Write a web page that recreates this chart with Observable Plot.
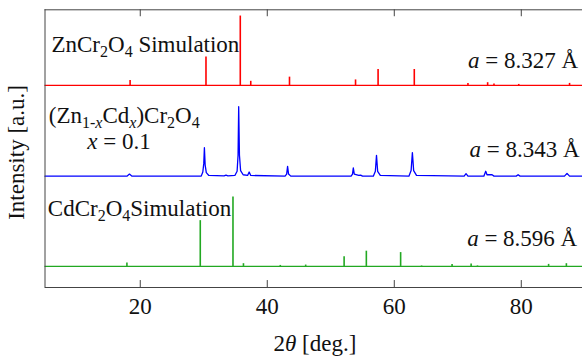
<!DOCTYPE html>
<html>
<head>
<meta charset="utf-8">
<script src="https://cdn.jsdelivr.net/npm/d3@7"></script>
<script src="https://cdn.jsdelivr.net/npm/@observablehq/plot@0.6"></script>
<style>
  html, body { margin: 0; padding: 0; background: #fff; }
</style>
</head>
<body>
<div id="chart"></div>
<script>
// ---- data (2θ in degrees, intensity in % of strongest peak) ----
const redTheta = [18.4, 30.35, 35.75, 37.4, 43.5, 53.9, 57.45, 63.15, 71.6, 74.7, 75.7, 79.6, 87.6];
const redInt   = [7, 41, 100, 6, 12, 8, 23, 23, 3, 4, 2, 1.5, 3];

const greenTheta = [17.9, 29.45, 34.6, 36.25, 42.05, 46.05, 52.1, 55.6, 61.0, 64.3, 69.1, 72.1, 73.1, 84.3, 87.1];
const greenInt   = [5, 66, 100, 4, 1.5, 2, 14, 22, 20, 0.7, 3, 3.5, 0.8, 3, 4];

const blueTheta = [5, 17.9, 18.3, 18.7, 29.6, 29.85, 30.0, 30.1, 30.22, 30.4, 30.8, 33.2, 33.5, 33.8,
  34.9, 35.25, 35.4, 35.5, 35.62, 35.8, 36.2, 36.9, 37.15, 37.4, 42.8, 43.05, 43.2, 43.35, 43.7,
  53.2, 53.42, 53.55, 53.7, 54.4, 54.7, 55.0, 56.7, 57.02, 57.2, 57.38, 57.8, 62.3, 62.65, 62.85, 63.05, 63.5,
  71.0, 71.3, 71.6, 74.1, 74.4, 74.6, 75.4, 75.7, 79.2, 79.5, 79.8, 86.8, 87.2, 87.6, 90];
const blueInt = [0, 0, 3, 0, 0, 6, 18, 41, 16, 5, 1, 0.5, 1.5, 0.5,
  1, 7, 30, 100, 30, 8, 2, 1, 6, 1, 0, 3, 14, 3, 0,
  0, 3, 12, 3, 1, 1.5, 0, 0, 7, 30, 7, 1, 0, 8, 34, 8, 1,
  0, 3.5, 0, 0, 7, 2, 2, 0, 0, 2, 0, 0, 4, 0, 0];

const xTicks = [20, 40, 60, 80];
const labels = {
  red: "ZnCr_{2}O_{4} Simulation",
  redA: "~a~ = 8.327 Å",
  blue: "(Zn_{1-~x~}Cd_{~x~})Cr_{2}O_{4}",
  blueX: "~x~ = 0.1",
  blueA: "~a~ = 8.343 Å",
  green: "CdCr_{2}O_{4}Simulation",
  greenA: "~a~ = 8.596 Å",
  xLabel: "2~θ~ [deg.]",
  yLabel: "Intensity [a.u.]"
};

// ---- layout constants ----
const redBase = 2.91, blueBase = 1.604, greenBase = 0.303;
const frameColor = "#444";
const fs = 23;
const serif = "'Liberation Serif', 'Times New Roman', 'DejaVu Serif', serif";
const txt = {fontSize: fs, fill: "#111", fontFamily: serif, lineAnchor: "bottom"};

const red = redTheta.map((t, i) => ({t, h: redInt[i]}));
const green = greenTheta.map((t, i) => ({t, h: greenInt[i]}));
const blue = blueTheta.map((t, i) => ({t, h: blueInt[i]}));

const chart = Plot.plot({
  width: 582,
  height: 358,
  margin: 0,
  style: {fontFamily: serif, background: "#fff"},
  x: {domain: [5, 90], range: [44.5, 584.3], axis: null},
  y: {domain: [0, 4], range: [287, 9.3], axis: null},
  marks: [
    // traces
    Plot.ruleY([redBase], {x1: 5, x2: 90, stroke: "#ff0000", strokeWidth: 1.3}),
    Plot.ruleX(red, {x: "t", y1: redBase, y2: d => redBase + d.h / 100, stroke: "#ff0000", strokeWidth: 1.6}),
    Plot.line(blue, {x: "t", y: d => blueBase + d.h / 100, stroke: "#0000ff", strokeWidth: 1.3}),
    Plot.ruleY([greenBase], {x1: 5, x2: 90, stroke: "#22a822", strokeWidth: 1.3}),
    Plot.ruleX(green, {x: "t", y1: greenBase, y2: d => greenBase + d.h / 100, stroke: "#22a822", strokeWidth: 1.6}),
    // frame
    Plot.ruleY([0, 4], {x1: 5, x2: 90, stroke: frameColor, strokeWidth: 1}),
    Plot.ruleX([5], {y1: 0, y2: 4, stroke: frameColor, strokeWidth: 1}),
    Plot.ruleX(xTicks, {y1: 0, y2: 0.1, stroke: frameColor, strokeWidth: 1}),
    Plot.ruleX(xTicks, {y1: 3.9, y2: 4, stroke: frameColor, strokeWidth: 1}),
    // tick labels
    Plot.text(xTicks, {...txt, x: d => d, y: 0, dy: 26, text: d => String(d), textAnchor: "middle"}),
    // axis labels
    Plot.text([labels.xLabel], {...txt, x: 47.5, y: 0, dy: 63, textAnchor: "middle"}),
    Plot.text([labels.yLabel], {...txt, x: 1.69, y: 1.945, rotate: -90, textAnchor: "middle"}),
    // annotations
    Plot.text([labels.red], {...txt, x: 6.02, y: 3.386, textAnchor: "start"}),
    Plot.text([labels.redA], {...txt, x: 88.94, y: 3.156, textAnchor: "end"}),
    Plot.text([labels.blue], {...txt, x: 5.6, y: 2.363, textAnchor: "start"}),
    Plot.text([labels.blueX], {...txt, x: 11.65, y: 1.999, textAnchor: "start"}),
    Plot.text([labels.blueA], {...txt, x: 89.17, y: 1.878, textAnchor: "end"}),
    Plot.text([labels.green], {...txt, x: 5.44, y: 1.023, textAnchor: "start"}),
    Plot.text([labels.greenA], {...txt, x: 88.81, y: 0.595, textAnchor: "end"})
  ]
});

// rich text: _{...} subscript, ~...~ italic
const svgns = "http://www.w3.org/2000/svg";
function richify(el) {
  const s = el.textContent;
  if (!/[_~]/.test(s)) return;
  el.textContent = "";
  let sub = false, it = false, buf = "", shift = 0;
  const subShift = 5;
  const flush = () => {
    if (!buf) return;
    const t = document.createElementNS(svgns, "tspan");
    t.textContent = buf;
    if (it) t.setAttribute("font-style", "italic");
    if (sub) t.setAttribute("font-size", Math.round(fs * 0.7) + "px");
    const target = sub ? subShift : 0;
    if (target !== shift) { t.setAttribute("dy", target - shift); shift = target; }
    el.appendChild(t);
    buf = "";
  };
  for (let i = 0; i < s.length; i++) {
    const c = s[i];
    if (c === "_" && s[i + 1] === "{") { flush(); sub = true; i++; continue; }
    if (c === "}" && sub) { flush(); sub = false; continue; }
    if (c === "~") { flush(); it = !it; continue; }
    buf += c;
  }
  flush();
}
chart.querySelectorAll("text").forEach(richify);

document.getElementById("chart").appendChild(chart);
</script>
</body>
</html>
